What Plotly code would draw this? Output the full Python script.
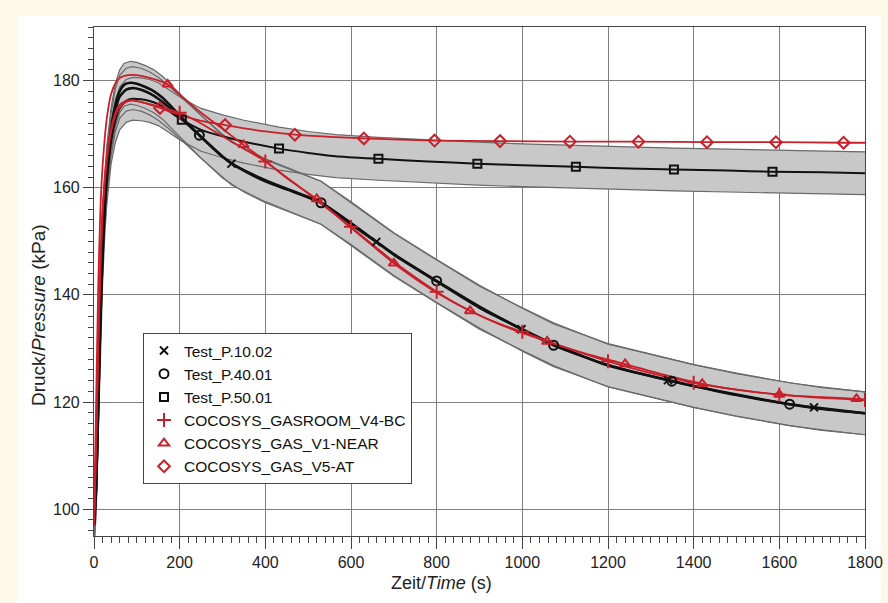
import plotly.graph_objects as go

# ---------------- data ----------------
BAND_HALF_WIDTH = 4.0  # kPa, measurement uncertainty band

t_p1002 = [0, 5, 10, 15, 20, 25, 30, 40, 50, 60, 70, 85, 100, 120, 140, 160, 180, 200, 250, 321,
           400, 450, 530, 600, 659, 700, 800, 900, 1000, 1073, 1200, 1340, 1400, 1500, 1624, 1681, 1800]
p_p1002 = [97, 105, 122, 138, 150, 158, 164, 171, 175.5, 178, 179.2, 179.6, 179.4, 178.8, 178, 176.8, 175.2, 173.5, 169.5, 164.5,
           161.4, 159.8, 157.2, 153.2, 149.9, 147.5, 142.5, 137.6, 133.6, 130.8, 126.8, 124.1, 123.0, 121.3, 119.6, 119.0, 117.9]

t_p4001 = [0, 5, 10, 15, 20, 25, 30, 40, 50, 60, 75, 90, 110, 130, 150, 175, 200, 246, 300, 350,
           400, 450, 530, 600, 700, 800, 900, 1000, 1073, 1200, 1349, 1400, 1500, 1624, 1700, 1800]
p_p4001 = [97, 104, 120, 136, 148, 156.5, 162.5, 170, 174.5, 177, 178.3, 178.6, 178.3, 177.6, 176.6, 175, 173.2, 169.8, 165.8, 163.2,
           161.2, 159.7, 157.2, 153.4, 147.6, 142.6, 137.8, 133.5, 130.6, 126.9, 123.9, 123.0, 121.4, 119.6, 118.7, 117.9]

t_p5001 = [0, 5, 10, 15, 20, 25, 30, 40, 50, 60, 75, 90, 110, 130, 150, 175, 205, 250, 300, 350,
           432, 500, 564, 664, 780, 895, 1000, 1125, 1250, 1354, 1480, 1584, 1700, 1800]
p_p5001 = [97, 103, 118, 134, 146, 155, 161, 168.5, 172.5, 174.8, 176.2, 176.6, 176.5, 176.2, 175.6, 174.3, 172.7, 170.8, 169.6, 168.6,
           167.3, 166.5, 165.9, 165.4, 164.9, 164.5, 164.2, 163.9, 163.6, 163.4, 163.2, 163.0, 162.9, 162.7]

t_v4bc = [0, 5, 10, 15, 20, 30, 40, 50, 60, 75, 90, 120, 150, 200, 250, 300, 350, 400, 450, 500, 550, 600,
          650, 700, 750, 800, 850, 900, 950, 1000, 1100, 1200, 1300, 1400, 1500, 1600, 1700, 1800]
p_v4bc = [97, 112, 131, 146, 156, 166, 171, 174, 175.5, 176.2, 176.3, 175.8, 175.2, 174, 172, 169.6, 167.3, 164.9, 161.9, 158.9, 155.8, 152.7,
          149.4, 146.2, 143.3, 140.6, 138.2, 136.2, 134.5, 133.1, 130.2, 127.6, 125.4, 123.6, 122.3, 121.4, 120.8, 120.4]

t_v1near = [0, 5, 10, 15, 20, 30, 40, 50, 60, 80, 100, 130, 172, 200, 250, 300, 349, 400, 450, 520, 600,
            650, 700, 750, 800, 878, 950, 1000, 1058, 1150, 1240, 1330, 1420, 1500, 1600, 1700, 1780, 1800]
p_v1near = [97, 120, 142, 156, 164, 173, 177.5, 179.5, 180.5, 181, 181, 180.5, 179.3, 177.4, 174, 171, 168, 165, 161.8, 157.9, 152.5,
            149.2, 145.9, 143, 140.4, 137, 134.4, 132.9, 131.3, 129, 127.1, 125.1, 123.4, 122.3, 121.4, 120.9, 120.6, 120.5]

t_v5at = [0, 5, 10, 15, 20, 30, 40, 50, 60, 75, 90, 120, 154, 200, 250, 306, 400, 469, 550, 630,
          795, 948, 1111, 1271, 1431, 1592, 1750, 1800]
p_v5at = [97, 112, 130, 145, 155, 165, 170.5, 173.5, 175, 176, 176.3, 175.8, 174.9, 173.6, 172.5, 171.7, 170.5, 169.9, 169.5, 169.2,
          168.8, 168.7, 168.6, 168.6, 168.5, 168.5, 168.4, 168.4]

# marker positions
mt_p1002 = [321, 659, 998, 1340, 1681]
mp_p1002 = [164.5, 149.9, 133.6, 124.1, 119.0]
mt_p4001 = [246, 530, 800, 1073, 1349, 1624]
mp_p4001 = [169.8, 157.2, 142.6, 130.6, 123.9, 119.6]
mt_p5001 = [205, 432, 664, 895, 1125, 1354, 1584]
mp_p5001 = [172.7, 167.3, 165.4, 164.5, 163.9, 163.4, 163.0]
mt_v4bc = [200, 400, 600, 800, 1000, 1200, 1400, 1600, 1800]
mp_v4bc = [174, 164.9, 152.7, 140.6, 133.1, 127.6, 123.6, 121.4, 120.4]
mt_v1near = [172, 349, 520, 700, 878, 1058, 1240, 1420, 1600, 1780]
mp_v1near = [179.3, 168, 157.9, 145.9, 137, 131.3, 127.1, 123.4, 121.4, 120.6]
mt_v5at = [154, 306, 469, 630, 795, 948, 1111, 1271, 1431, 1592, 1750]
mp_v5at = [174.9, 171.7, 169.9, 169.2, 168.8, 168.7, 168.6, 168.6, 168.5, 168.5, 168.4]

names = ["Test_P.10.02", "Test_P.40.01", "Test_P.50.01",
         "COCOSYS_GASROOM_V4-BC", "COCOSYS_GAS_V1-NEAR", "COCOSYS_GAS_V5-AT"]

x_ticks = [0, 200, 400, 600, 800, 1000, 1200, 1400, 1600, 1800]
y_ticks = [100, 120, 140, 160, 180]

x_title = "Zeit/<i>Time</i> (s)"
y_title = "Druck/<i>Pressure</i> (kPa)"

# ---------------- styles ----------------
BLACK = "#111111"
RED = "#c8202a"
BAND_FILL = "#c8c8c8"
BAND_EDGE = "#6a6a6a"
CREAM = "#fdf8e7"

fig = go.Figure()

tests = [(t_p1002, p_p1002), (t_p4001, p_p4001), (t_p5001, p_p5001)]

# band fills
for t, p in tests:
    up = [v + BAND_HALF_WIDTH for v in p]
    lo = [v - BAND_HALF_WIDTH for v in p]
    fig.add_trace(go.Scatter(x=t + t[::-1], y=up + lo[::-1], fill="toself", fillcolor=BAND_FILL,
                             line=dict(width=0), mode="lines", showlegend=False, hoverinfo="skip"))
# band edges
for t, p in tests:
    up = [v + BAND_HALF_WIDTH for v in p]
    lo = [v - BAND_HALF_WIDTH for v in p]
    for edge in (up, lo):
        fig.add_trace(go.Scatter(x=t, y=edge, mode="lines", line=dict(color=BAND_EDGE, width=1.2),
                                 showlegend=False, hoverinfo="skip"))

# curves
curves = [
    (t_p5001, p_p5001, BLACK, 2.0),
    (t_p4001, p_p4001, BLACK, 2.6),
    (t_p1002, p_p1002, BLACK, 2.6),
    (t_v5at, p_v5at, RED, 1.8),
    (t_v4bc, p_v4bc, RED, 1.8),
    (t_v1near, p_v1near, RED, 1.8),
]
for t, p, c, w in curves:
    fig.add_trace(go.Scatter(x=t, y=p, mode="lines", line=dict(color=c, width=w, shape="spline", smoothing=0.6),
                             showlegend=False))

# markers (with legend)
markers = [
    (mt_p1002, mp_p1002, names[0], "x-thin", BLACK, 8),
    (mt_p4001, mp_p4001, names[1], "circle-open", BLACK, 9),
    (mt_p5001, mp_p5001, names[2], "square-open", BLACK, 8),
    (mt_v4bc, mp_v4bc, names[3], "cross-thin", RED, 10),
    (mt_v1near, mp_v1near, names[4], "triangle-up-open", RED, 9),
    (mt_v5at, mp_v5at, names[5], "diamond-open", RED, 9),
]
for t, p, nm, sym, c, s in markers:
    fig.add_trace(go.Scatter(x=t, y=p, mode="markers", name=nm,
                             marker=dict(symbol=sym, size=s, color=c, line=dict(color=c, width=2))))

# white panel on cream border
L, R, T, B = 94, 865, 27, 536
W, H = 888, 603
pw, ph = R - L, B - T
fig.add_shape(type="rect", xref="paper", yref="paper", layer="below",
              x0=(17 - L) / pw, x1=(881 - L) / pw, y0=(B - 603) / ph, y1=(B - 16) / ph,
              fillcolor="white", line=dict(width=0))

FONT = "Liberation Sans, Arial, sans-serif"

# axis titles placed as annotations (off-centre as in the reference)
fig.add_annotation(text=x_title, xref="paper", yref="paper", x=(441 - L) / pw, y=(B - 583) / ph,
                   xanchor="center", yanchor="middle", showarrow=False, font=dict(size=18, color="#222"))
fig.add_annotation(text=y_title, xref="paper", yref="paper", x=(38 - L) / pw, y=(B - 315) / ph,
                   xanchor="center", yanchor="middle", textangle=-90, showarrow=False,
                   font=dict(size=19, color="#222"))

fig.update_layout(
    width=W, height=H,
    margin=dict(l=L, r=W - R, t=T, b=H - B),
    paper_bgcolor=CREAM, plot_bgcolor="white",
    font=dict(family=FONT, size=16, color="#222"),
    xaxis=dict(range=[0, 1800], tickvals=x_ticks, showgrid=True, gridcolor="#808080", gridwidth=1,
               showline=True, linecolor="#444", linewidth=1.2, mirror=True, zeroline=False,
               ticks="outside", ticklen=12, tickcolor="#444", tickwidth=1.2,
               minor=dict(dtick=20, tick0=0, ticks="outside", ticklen=6, tickcolor="#444", showgrid=False),
               tickfont=dict(size=16), automargin=False),
    yaxis=dict(range=[95, 190], tickvals=y_ticks, showgrid=True, gridcolor="#808080", gridwidth=1,
               showline=True, linecolor="#444", linewidth=1.2, mirror=True, zeroline=False,
               ticks="outside", ticklen=10, tickcolor="#444", tickwidth=1.2,
               minor=dict(dtick=2, tick0=100, ticks="outside", ticklen=5, tickcolor="#444", showgrid=False),
               tickfont=dict(size=16), automargin=False),
    legend=dict(x=(143 - L) / pw, y=(B - 333) / ph, xanchor="left", yanchor="top",
                bgcolor="white", bordercolor="#444", borderwidth=1,
                font=dict(family=FONT, size=15.5, color="#111"),
                tracegroupgap=0),
    showlegend=True,
)

fig.write_html("out.html", config={"displayModeBar": False},
               post_script="document.body.style.margin='0';")
